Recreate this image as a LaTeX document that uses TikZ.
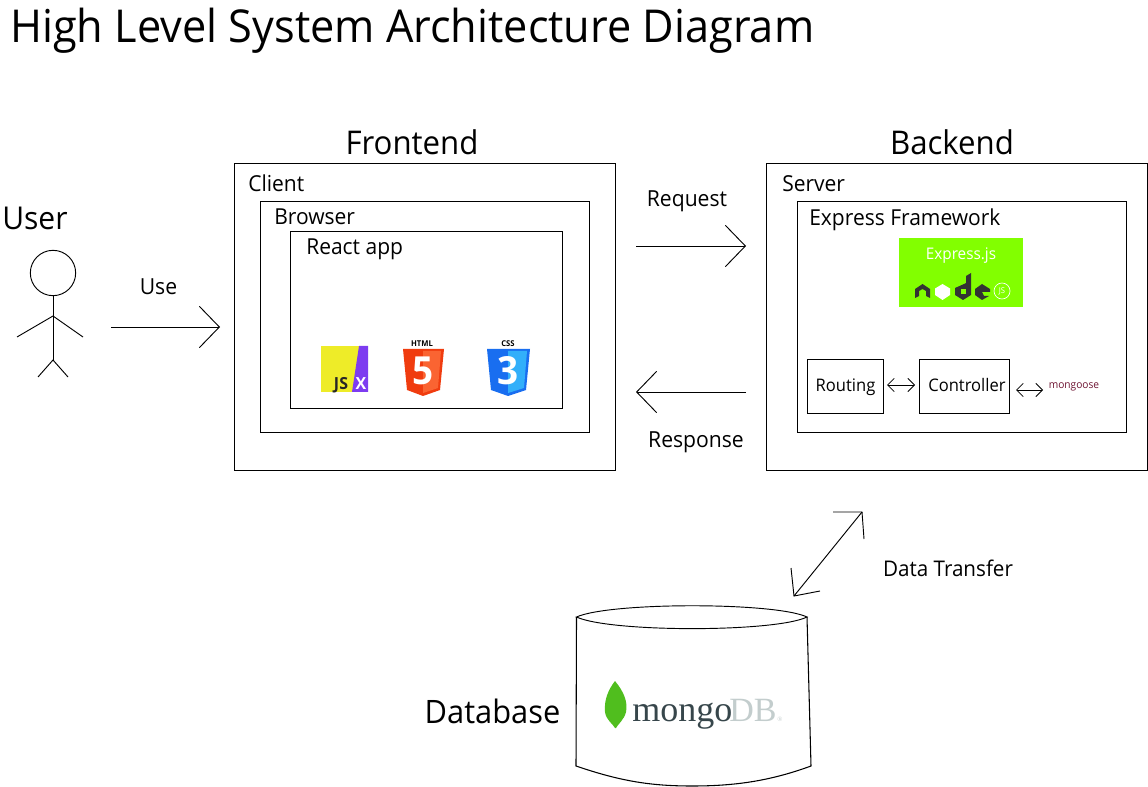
\documentclass[tikz,border=0pt]{standalone}
\usepackage{fontspec}
\setmainfont[FakeStretch=0.955]{Open Sans}
\newfontfamily\logoserif{Liberation Serif}
\usetikzlibrary{arrows.meta}
\definecolor{exgreen}{RGB}{130,255,0}
\definecolor{jsxyellow}{RGB}{238,236,40}
\definecolor{jsxviolet}{RGB}{125,60,240}
\definecolor{htmlred}{RGB}{240,60,15}
\definecolor{htmlorange}{RGB}{250,100,50}
\definecolor{cssblue}{RGB}{25,110,240}
\definecolor{csslight}{RGB}{50,175,250}
\definecolor{mgred}{RGB}{110,20,50}
\definecolor{leaf}{RGB}{80,190,30}
\definecolor{mongodark}{RGB}{55,70,75}
\definecolor{mongolight}{RGB}{195,205,205}
\tikzset{
  x=0.75pt,y=-0.75pt,
  box/.style={draw=black,line width=0.85pt,inner sep=0pt,anchor=north west},
  lab/.style={anchor=base west,inner sep=0pt,font=\fontsize{16.5}{20}\selectfont},
  big/.style={anchor=base,inner sep=0pt,font=\fontsize{24.5}{30}\selectfont},
  small/.style={anchor=base,inner sep=0pt,font=\fontsize{13}{16}\selectfont},
  conn/.style={anchor=base,inner sep=0pt,font=\fontsize{16.6}{18}\selectfont},
  bigarrow/.style={draw=black,line width=0.7pt,-{Straight Barb[length=15pt,width=31pt,line width=0.7pt]}},
  plainline/.style={draw=black,line width=0.7pt},
  tinyarrow/.style={draw=black,line width=0.6pt,{Straight Barb[length=5pt,width=10pt,line width=0.6pt]}-{Straight Barb[length=5pt,width=10pt,line width=0.6pt]}},
  person/.style={draw=black,line width=0.7pt},
  logotext/.style={anchor=base,inner sep=0pt},
}
\begin{document}
\begin{tikzpicture}
\useasboundingbox (0,0) rectangle (1148,787);
\clip (0,0) rectangle (1148,787);
% title
\node (title) [anchor=base west,inner sep=0pt,font=\fontsize{34}{40}\selectfont] at (10,42.5) {High Level System Architecture Diagram};
\node (frontendlab) [big] at (412,154.5) {Frontend};
\node (backendlab) [big] at (952,154.5) {Backend};
\node (userlab) [big,anchor=base west,font=\fontsize{23.6}{30}\selectfont] at (2,229.5) {User};
\node (dblab) [big,font=\fontsize{24.2}{30}\selectfont] at (492.5,723.5) {Database};
% boxes
\node (client) [box,minimum width=285.75pt,minimum height=230.25pt] at (234,163) {};
\node (browser) [box,minimum width=246.75pt,minimum height=173.25pt] at (260,201) {};
\node (react) [box,minimum width=204pt,minimum height=132.75pt] at (290,231) {};
\node (server) [box,minimum width=285.75pt,minimum height=230.25pt] at (766,163) {};
\node (express) [box,minimum width=246.75pt,minimum height=173.25pt] at (797,201) {};
\node (routing) [box,minimum width=57pt,minimum height=40.5pt] at (807,359) {};
\node (controller) [box,minimum width=67.5pt,minimum height=40.5pt] at (919,359) {};
% box labels
\node (clientlab) [lab] at (248,191.5) {Client};
\node (browserlab) [lab] at (274,225) {Browser};
\node (reactlab) [lab] at (306,255) {React app};
\node (serverlab) [lab] at (782,191.5) {Server};
\node (expresslab) [lab] at (809,225.5) {Express Framework};
\node (routingtxt) [small] at (845.5,392) {Routing};
\node (controllertxt) [small] at (967,392) {Controller};
% stick figure
\node (head) [circle,draw=black,line width=0.7pt,minimum size=34pt,inner sep=0pt] at (53,273) {};
\coordinate (hip) at (53,360);
\coordinate (shoulderl) at (17,337);
\coordinate (shoulderr) at (83,337);
\coordinate (neck) at (53,316);
\coordinate (footl) at (38,377);
\coordinate (footr) at (68,377);
\draw[person] (head.south) -- (hip);
\draw[person] (shoulderl) -- (neck) -- (shoulderr);
\draw[person] (footl) -- (hip) -- (footr);
% connectors
\coordinate (useA) at (111,327);
\coordinate (useB) at (220,327);
\draw[bigarrow] (useA) -- (useB);
\node (uselab) [conn] at (158.5,295) {Use};
\coordinate (reqA) at (636,246);
\coordinate (reqB) at (746,246);
\draw[bigarrow] (reqA) -- (reqB);
\node (reqlab) [conn] at (687,207) {Request};
\coordinate (resA) at (746,392);
\coordinate (resB) at (636,392);
\draw[bigarrow] (resA) -- (resB);
\node (reslab) [conn] at (696,447) {Response};
\coordinate (dtA) at (794,596);
\coordinate (dtB) at (862,512);
\coordinate (dtA1) at (791,568);
\coordinate (dtA2) at (820,591);
\coordinate (dtB1) at (833,512);
\coordinate (dtB2) at (864,539);
\draw[plainline] (dtA) -- (dtB);
\draw[plainline] (dtA1) -- (dtA) -- (dtA2);
\draw[plainline] (dtB1) -- (dtB) -- (dtB2);
\node (dtlab) [conn,font=\fontsize{16.2}{18}\selectfont] at (948,576) {Data Transfer};
\coordinate (rcA) at (887,385);
\coordinate (rcB) at (915,385);
\draw[tinyarrow] (rcA) -- (rcB);
\coordinate (cmA) at (1016,390);
\coordinate (cmB) at (1043,390);
\draw[tinyarrow] (cmA) -- (cmB);
\node (mongoose) [logotext,text=mgred,font=\fontsize{8}{9}\selectfont] at (1074,388) {mongoose};
% express logo
\node (exlogo) [anchor=north west,fill=exgreen,minimum width=93pt,minimum height=51.75pt,inner sep=0pt] at (899,238) {};
\node (extxt) [logotext,text=white,font=\fontsize{12}{13}\selectfont] at (961,259.5) {Express.js};
\fill[black!80] (915,298) -- (915,289) -- (922.5,284) -- (930,289) -- (930,298) -- (926,296) -- (926,291) -- (922.5,289) -- (919,291) -- (919,296) -- cycle;
\fill[white] (942.5,284) -- (950,288.5) -- (950,295) -- (942.5,300) -- (935,295) -- (935,288.5) -- cycle;
\fill[black!80] (955,288) -- (964,284) -- (966,283) -- (966,276) -- (971,273) -- (971,295) -- (963,300) -- (955,295) -- cycle;
\fill[exgreen] (961,289) rectangle (966,294);
\fill[black!80] (975,289) -- (982,284) -- (990,289) -- (990,292) -- (982,292) -- (984,296) -- (989,296) -- (982,300) -- (975,295) -- cycle;
\node (njs) [draw=white,line width=0.5pt,circle,inner sep=0pt,minimum size=12pt] at (1002,291) {};
\node (njstxt) [inner sep=0pt,text=white,font=\fontsize{6}{6}\selectfont] at (1002,291) {JS};
% jsx logo
\fill[jsxyellow] (321,346) rectangle (368,392);
\fill[jsxviolet] (359,346) -- (368,346) -- (368,392) -- (352,392) -- cycle;
\node (js) [logotext,text=black!85,font=\fontsize{12.5}{13}\bfseries\selectfont] at (341,390) {JS};
\node (xx) [logotext,text=white,font=\fontsize{12.5}{13}\bfseries\selectfont] at (361,390) {X};
% html logo
\node (htmltxt) [logotext,text=black,font=\fontsize{6}{7}\bfseries\selectfont] at (422,346.5) {HTML};
\fill[htmlred] (403,349) -- (444,349) -- (440,390) -- (423,396) -- (407,390) -- cycle;
\fill[htmlorange] (423,351) -- (441,351) -- (438,388) -- (423,393) -- cycle;
\node (five) [inner sep=0pt,text=white,font=\fontsize{29}{30}\bfseries\selectfont] at (423,371) {5};
% css logo
\node (csstxt) [logotext,text=black,font=\fontsize{6}{7}\bfseries\selectfont] at (508,346.5) {CSS};
\fill[cssblue] (487,349) -- (530,349) -- (526,390) -- (508,396) -- (491,390) -- cycle;
\fill[csslight] (508,351) -- (527,351) -- (524,388) -- (508,393) -- cycle;
\node (three) [inner sep=0pt,text=white,font=\fontsize{29}{30}\bfseries\selectfont] at (508,371) {3};
% cylinder
\draw[black,line width=0.7pt] (576.5,617) .. controls (610,602) and (775,602) .. (807,617) .. controls (775,632.5) and (610,632.5) .. cycle;
\draw[black,line width=0.8pt] (576.5,617) -- (576,766) .. controls (620,781) and (650,786) .. (692,786) .. controls (735,786) and (770,781) .. (811,766) -- (807,617);
% mongo logo
\fill[leaf] (615,681) .. controls (624,692) and (628,702) .. (626,712) .. controls (624,720) and (618,724) .. (616,728) -- (615,728) .. controls (613,724) and (606,720) .. (605,712) .. controls (604,700) and (608,690) .. (615,681) -- cycle;
\node (mongotxt) [logotext,text=mongodark,font=\logoserif\fontsize{27}{28}\selectfont,anchor=base west] at (632,721) {mongo};
\node (dbtxt) [logotext,text=mongolight,font=\logoserif\fontsize{25.5}{28}\selectfont,anchor=base west] at (729,721) {DB};
\node (regmark) [logotext,text=mongolight,font=\logoserif\fontsize{5}{6}\selectfont,anchor=base west] at (777,721) {®};
\end{tikzpicture}
\end{document}
